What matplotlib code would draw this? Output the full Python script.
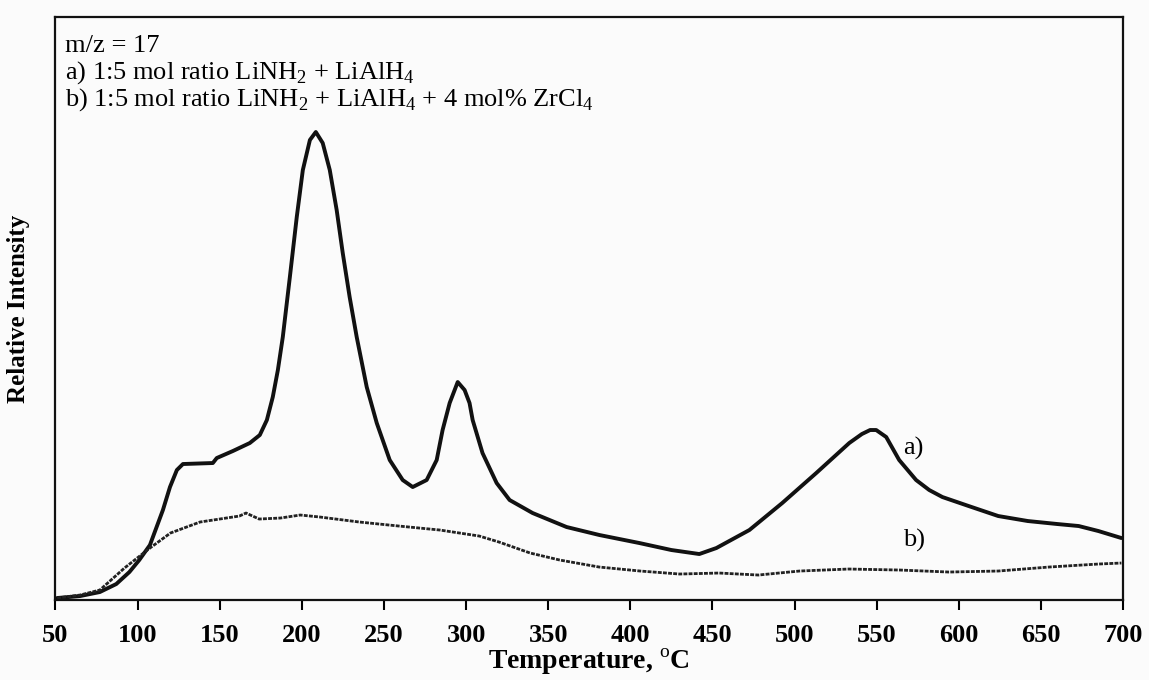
import matplotlib
matplotlib.use("Agg")
import matplotlib.pyplot as plt

plt.rcParams['font.family'] = ['Liberation Serif', 'DejaVu Serif']
plt.rcParams['mathtext.fontset'] = 'custom'
plt.rcParams['mathtext.rm'] = 'Liberation Serif'

# Temperature (°C) and relative intensity for trace a) LiNH2 + LiAlH4
temp_a = [51, 65, 77, 87, 95, 101, 107.5, 115.4, 119.7, 123.9, 127.6, 145.8, 148.2,
          158.0, 168.3, 174.4, 178.7, 182.3, 185.4, 188.4, 192.7, 196.9, 200.6,
          204.9, 208.5, 212.7, 217.0, 221.2, 224.9, 229.1, 233.4, 239.5, 245.6,
          253.5, 261.4, 267.5, 276.0, 282.1, 285.7, 290.0, 294.9, 299.1, 302.1,
          304.0, 310.0, 318.6, 326.5, 340.5, 361.2, 381.2, 405.5, 425, 442,
          452.4, 472.5, 492.5, 513.2, 533.3, 541, 546, 549.7, 555.8, 563.7, 574.0,
          582, 590, 606, 624, 642, 660, 673, 685, 699]
int_a = [2, 4, 8, 16, 28, 40, 55, 90, 113, 130, 136, 137, 142,
         149, 157, 165, 180, 203, 230, 263, 323, 383, 430,
         460, 468, 457, 430, 390, 347, 303, 263, 213, 177,
         140, 120, 113, 120, 140, 170, 197, 218, 210, 197,
         180, 147, 117, 100, 87, 73, 65, 57, 50, 46,
         52, 70, 97, 127, 157, 166, 170, 170, 163, 140, 120,
         110, 103, 94, 84, 79, 76, 74, 69, 62]

# Trace b) LiNH2 + LiAlH4 + 4 mol% ZrCl4
temp_b = [51, 65, 77, 92, 107.5, 120, 138, 162, 166, 174, 187, 199, 211, 235, 259,
          284, 308, 320, 339, 357, 381, 406, 430, 454, 478, 503, 533, 564, 594, 624,
          655, 685, 699]
int_b = [2, 5, 10, 32, 52, 67, 78, 84, 87, 81, 82, 85, 83, 78, 74,
         70, 64, 58, 47, 40, 33, 29, 26, 27, 25, 29, 31, 30, 28, 29,
         33, 36, 37]

x_ticks = list(range(50, 701, 50))

fig = plt.figure(figsize=(11.49, 6.8), dpi=100, facecolor='#fbfbfb')
ax = fig.add_axes([0.0483, 0.1176, 0.9291, 0.8574])
ax.set_facecolor('#fbfbfb')

ax.plot(temp_a, int_a, color='#111111', lw=2.8, solid_joinstyle='round',
        solid_capstyle='round')
ax.plot(temp_b, int_b, color='#222222', lw=2.0, linestyle=(0, (1.4, 0.45)))

ax.set_xlim(50, 700)
ax.set_ylim(0, 583)
ax.set_xticks(x_ticks)
ax.set_yticks([])
ax.tick_params(axis='x', direction='out', length=7, width=1.5, pad=10,
               labelsize=19)
for lab in ax.get_xticklabels():
    lab.set_fontweight('bold')
for s in ax.spines.values():
    s.set_linewidth(1.6)
    s.set_color('#111111')

ax.set_xlabel('Temperature, $^{\\rm o}$C', fontsize=20, fontweight='bold', labelpad=0)
ax.set_ylabel('Relative Intensity', fontsize=18, fontweight='bold', labelpad=18)

tx = 0.0085
ax.text(tx, 0.950, 'm/z = 17', transform=ax.transAxes, fontsize=19, va='center')
ax.text(tx, 0.904, 'a) 1:5 mol ratio LiNH$_2$ + LiAlH$_4$', transform=ax.transAxes,
        fontsize=19, va='center')
ax.text(tx, 0.858, 'b) 1:5 mol ratio LiNH$_2$ + LiAlH$_4$ + 4 mol% ZrCl$_4$',
        transform=ax.transAxes, fontsize=19, va='center')

ax.text(566, 152, 'a)', fontsize=19, va='center')
ax.text(566, 60, 'b)', fontsize=19, va='center')

fig.savefig('out.png', dpi=100, facecolor=fig.get_facecolor())
